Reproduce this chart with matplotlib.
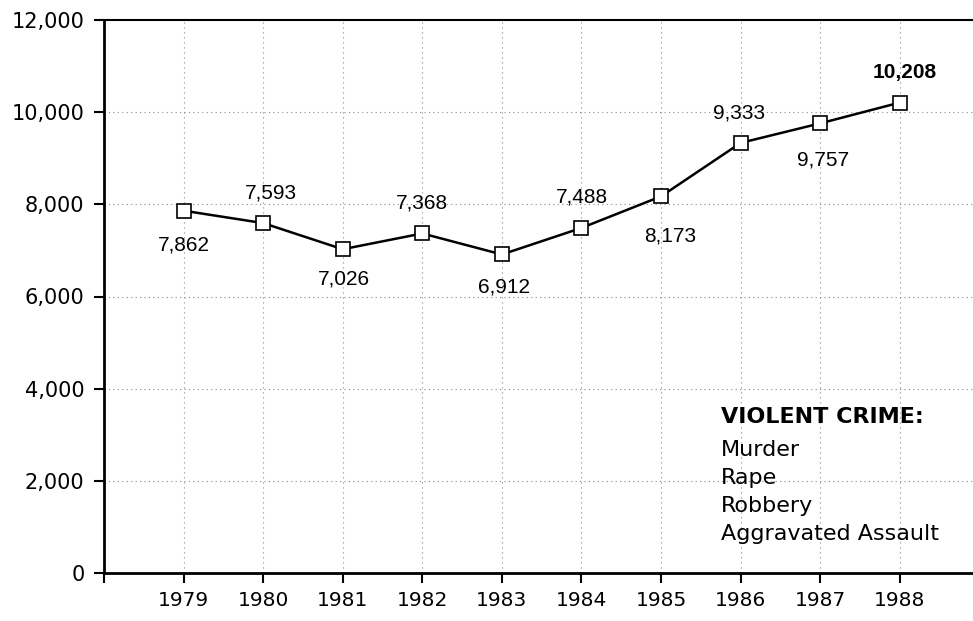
import matplotlib
matplotlib.use("Agg")
import matplotlib.pyplot as plt

years = [1979, 1980, 1981, 1982, 1983, 1984, 1985, 1986, 1987, 1988]
values = [7862, 7593, 7026, 7368, 6912, 7488, 8173, 9333, 9757, 10208]
labels = ["7,862", "7,593", "7,026", "7,368", "6,912", "7,488", "8,173", "9,333", "9,757", "10,208"]
yticks = [0, 2000, 4000, 6000, 8000, 10000, 12000]
ytick_labels = ["0", "2,000", "4,000", "6,000", "8,000", "10,000", "12,000"]
legend_title = "VIOLENT CRIME:"
legend_items = ["Murder", "Rape", "Robbery", "Aggravated Assault"]

# label offsets in pixels (dx, dy)
offsets = [(0, -34), (8, 30), (1, -30), (0, 30), (2, -33), (0, 31), (9, -40), (-2, 30), (3, -37), (5, 30)]

fig = plt.figure(figsize=(9.73, 6.21), dpi=100)
ax = fig.add_axes([104/973, 48/621, 1 - 104/973, (573-20)/621])

ax.plot(years, values, color="black", lw=1.8, marker="s", ms=10.5,
        mfc="white", mec="black", mew=1.2, zorder=3)

ax.set_xlim(1978, 1988.92)
ax.set_ylim(0, 12000)
ax.set_xticks(years)
ax.set_xticklabels([str(y) for y in years], fontfamily="DejaVu Sans", fontsize=14.5)
ax.set_yticks(yticks)
ax.set_yticklabels(ytick_labels, fontfamily="DejaVu Sans", fontsize=15)
ax.tick_params(axis="y", length=7, width=1.5, pad=7, direction="out")
ax.tick_params(axis="x", length=7, width=1.5, pad=6, direction="out")

# extra tick at axis origin on x
ax.set_xticks([1978], minor=True)
ax.tick_params(axis="x", which="minor", length=7, width=1.5)

for s in ["left", "bottom"]:
    ax.spines[s].set_linewidth(2)
ax.spines["top"].set_linewidth(1.5)
ax.spines["right"].set_visible(False)

for y in yticks[1:-1]:
    ax.axhline(y, color="#888888", lw=0.8, ls=(0, (1, 3)), zorder=1)
for x in years:
    ax.axvline(x, color="#888888", lw=0.8, ls=(0, (1, 3.5)), zorder=1)

for i, (x, v, lab) in enumerate(zip(years, values, labels)):
    dx, dy = offsets[i]
    ax.annotate(lab, (x, v), xytext=(dx, dy), textcoords="offset pixels",
                ha="center", va="center", fontfamily="Liberation Sans",
                fontsize=15, fontweight="bold" if i == len(years) - 1 else "normal")

fig.text(721/973, 1 - 417/621, legend_title, fontfamily="DejaVu Sans", fontsize=16,
         fontweight="bold", ha="left", va="center")
for j, item in enumerate(legend_items):
    fig.text(721/973, 1 - (450 + 28*j)/621, item, fontfamily="DejaVu Sans",
             fontsize=16, ha="left", va="center")

fig.savefig("out.png", dpi=100)
